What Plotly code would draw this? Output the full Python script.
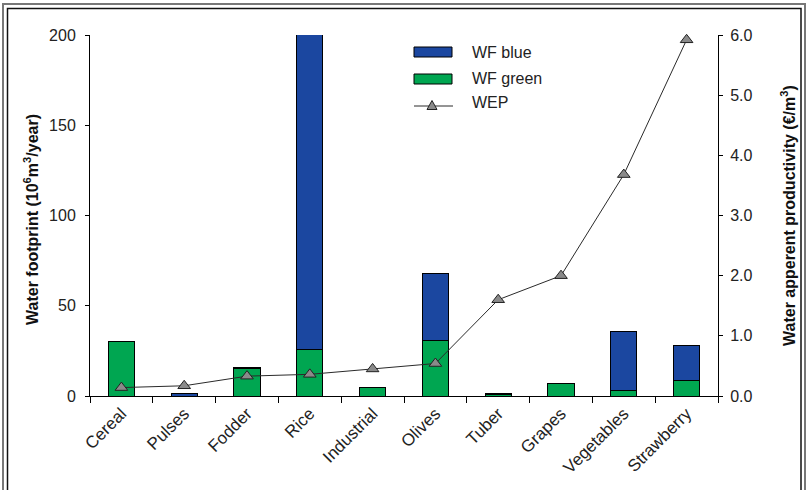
import plotly.graph_objects as go

categories = ["Cereal", "Pulses", "Fodder", "Rice", "Industrial", "Olives",
              "Tuber", "Grapes", "Vegetables", "Strawberry"]
wf_green = [30.0, 0.0, 15.5, 26.0, 4.8, 30.6, 0.6, 7.0, 2.9, 8.5]
wf_blue = [0.0, 1.6, 0.5, 175.3, 0.0, 37.4, 0.6, 0.0, 33.0, 19.3]
wep = [0.14, 0.17, 0.33, 0.36, 0.45, 0.54, 1.60, 2.00, 3.68, 5.92]

left_ticks = [0, 50, 100, 150, 200]
right_ticks = [0, 1, 2, 3, 4, 5, 6]
right_ticklabels = ["0.0", "1.0", "2.0", "3.0", "4.0", "5.0", "6.0"]

BLUE = "#1b47a0"
GREEN = "#00a651"
FONT = "Liberation Sans, Arial, sans-serif"

W, H = 808, 490
L, R, T, B = 90, 90, 35, 94
PW, PH = W - L - R, H - T - B


def px(x):
    return (x - L) / PW


def py(y):
    return (H - B - y) / PH


fig = go.Figure()
fig.add_trace(go.Bar(x=categories, y=wf_green, name="WF green", marker_color=GREEN,
                     marker_line=dict(color="black", width=1), width=0.42, showlegend=False,
                     cliponaxis=False))
fig.add_trace(go.Bar(x=categories, y=wf_blue, name="WF blue", marker_color=BLUE,
                     marker_line=dict(color="black", width=1), width=0.42, showlegend=False,
                     cliponaxis=False))
fig.add_trace(go.Scatter(x=categories, y=wep, name="WEP", yaxis="y2", mode="lines+markers",
                         line=dict(color="#2a2a2a", width=1),
                         marker=dict(symbol="triangle-up", size=11, color="#8a8a8a",
                                     line=dict(color="#222222", width=1)),
                         showlegend=False, cliponaxis=False))

shapes = []
# double frame
shapes.append(dict(type="rect", xref="paper", yref="paper", x0=px(3), x1=px(805), y0=py(500), y1=py(4),
                   line=dict(color="#777777", width=2), fillcolor="rgba(0,0,0,0)", layer="below"))
shapes.append(dict(type="rect", xref="paper", yref="paper", x0=px(7.5), x1=px(801), y0=py(500), y1=py(8.5),
                   line=dict(color="#111111", width=1.5), fillcolor="rgba(0,0,0,0)", layer="below"))
# manual legend
shapes.append(dict(type="rect", xref="paper", yref="paper", x0=px(414), x1=px(452), y0=py(57), y1=py(47),
                   line=dict(color="black", width=1), fillcolor=BLUE))
shapes.append(dict(type="rect", xref="paper", yref="paper", x0=px(414), x1=px(452), y0=py(84), y1=py(74),
                   line=dict(color="black", width=1), fillcolor=GREEN))
shapes.append(dict(type="line", xref="paper", yref="paper", x0=px(414), x1=px(453), y0=py(106), y1=py(106),
                   line=dict(color="#2a2a2a", width=1)))
tx, ty = 432, 106
shapes.append(dict(type="path", xref="paper", yref="paper",
                   path=f"M {px(tx-5)} {py(ty+3.5)} L {px(tx+5)} {py(ty+3.5)} L {px(tx)} {py(ty-5.5)} Z",
                   line=dict(color="#222222", width=1), fillcolor="#8a8a8a"))

annotations = [
    dict(text="WF blue", x=px(470), y=py(52), xref="paper", yref="paper", xanchor="left",
         yanchor="middle", showarrow=False, font=dict(size=16, family=FONT, color="#222")),
    dict(text="WF green", x=px(470), y=py(78), xref="paper", yref="paper", xanchor="left",
         yanchor="middle", showarrow=False, font=dict(size=16, family=FONT, color="#222")),
    dict(text="WEP", x=px(470), y=py(103), xref="paper", yref="paper", xanchor="left",
         yanchor="middle", showarrow=False, font=dict(size=16, family=FONT, color="#222")),
    dict(text="<b>Water footprint (10<sup>6</sup>m<sup>3</sup>/year)</b>", x=px(31), y=py(220),
         xref="paper", yref="paper", xanchor="center", yanchor="middle", textangle=-90,
         showarrow=False, font=dict(size=16, family=FONT, color="#111")),
    dict(text="<b>Water apperent productivity (€/m<sup>3</sup>)</b>", x=px(788), y=py(216),
         xref="paper", yref="paper", xanchor="center", yanchor="middle", textangle=-90,
         showarrow=False, font=dict(size=16, family=FONT, color="#111")),
]

fig.update_layout(
    width=W, height=H,
    margin=dict(l=L, r=R, t=T, b=B, pad=0),
    paper_bgcolor="white", plot_bgcolor="white",
    barmode="stack",
    showlegend=False,
    font=dict(family=FONT, size=16, color="#222"),
    xaxis=dict(type="category", range=[-0.5, len(categories) - 0.5], showline=True,
               linecolor="black", linewidth=1,
               ticks="outside", ticklen=6, tickcolor="black", tickson="boundaries",
               tickangle=-45, showgrid=False, tickfont=dict(size=17)),
    yaxis=dict(range=[0, 200], tickvals=left_ticks, showline=True, linecolor="black", linewidth=1,
               ticks="outside", ticklen=4, tickcolor="black", showgrid=False, zeroline=False,
               tickfont=dict(size=16), ticklabelstandoff=6),
    yaxis2=dict(range=[0, 6], overlaying="y", side="right", tickvals=right_ticks,
                ticktext=right_ticklabels, showline=True, linecolor="black", linewidth=1,
                ticks="outside", ticklen=4, tickcolor="black", showgrid=False, zeroline=False,
                tickfont=dict(size=16), ticklabelstandoff=4),
    yaxis3=dict(range=[0, 6], overlaying="y", side="right", tickvals=right_ticks,
                showticklabels=False, showline=False, ticks="inside", ticklen=4,
                tickcolor="black", showgrid=False, zeroline=False),
    shapes=shapes,
    annotations=annotations,
)

fig.write_html("out.html", config={"displayModeBar": False},
               post_script="document.body.style.margin='0';document.body.style.padding='0';")
